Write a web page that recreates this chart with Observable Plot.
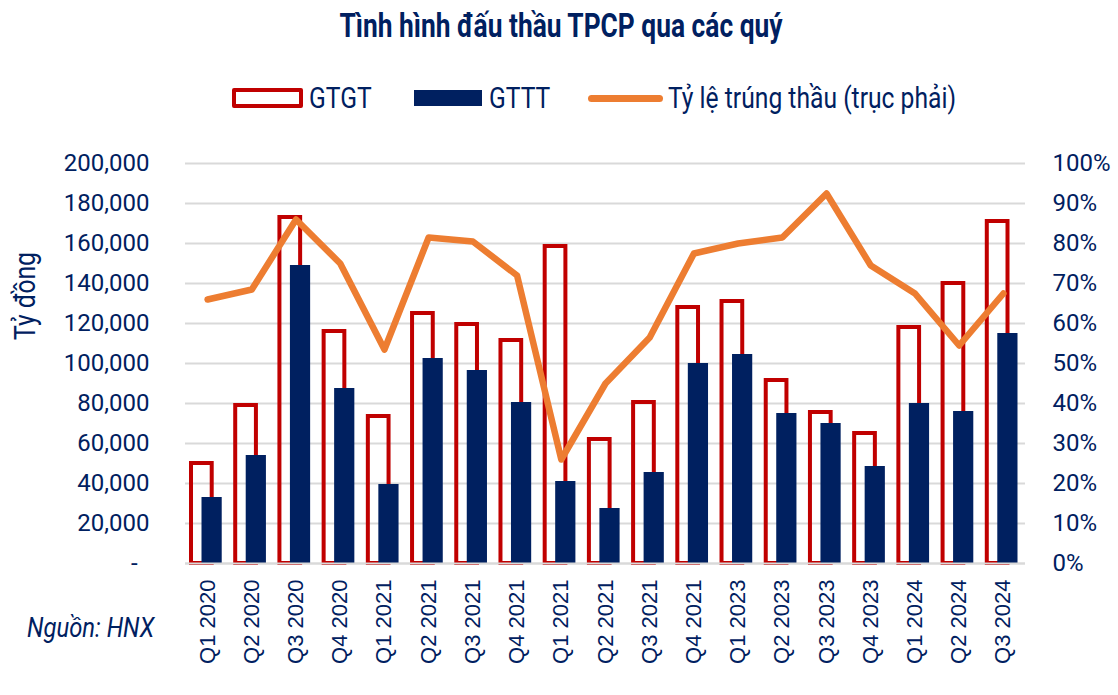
<!DOCTYPE html>
<html>
<head>
<meta charset="utf-8">
<script src="https://cdn.jsdelivr.net/npm/d3@7"></script>
<script src="https://cdn.jsdelivr.net/npm/@observablehq/plot@0.6"></script>
<style>
  html, body { margin: 0; padding: 0; background: #fff; }
  #wrap { position: relative; width: 1118px; height: 695px; overflow: hidden; font-family: Roboto, "Noto Sans", sans-serif; color: #002060; }
  .abs { position: absolute; white-space: nowrap; }
  #title { font-weight: 700; font-size: 34px; line-height: 34px; top: 8px; left: 561px; transform-origin: center; }
  .ltext { font-size: 29px; line-height: 29px; top: 84px; transform-origin: left center; transform: scaleX(0.85); }
  #chart { position: absolute; left: 0; top: 144px; }
  #ylab { font-size: 29px; line-height: 29px; left: 25px; top: 296px; transform: translate(-50%, -50%) rotate(-90deg) scaleX(0.85); }
  #source { font-size: 28px; line-height: 28px; font-style: italic; left: 27px; top: 614px; transform-origin: left center; transform: scaleX(0.85); }
</style>
</head>
<body>
<div id="wrap">
  <div id="title" class="abs">Tình hình đấu thầu TPCP qua các quý</div>
  <div class="abs" style="left:232px;top:88px;width:71px;height:20px;box-sizing:border-box;border:4px solid #C00000;border-radius:2px;"></div>
  <div class="abs ltext" style="left:309px;">GTGT</div>
  <div class="abs" style="left:414px;top:90px;width:68px;height:16px;background:#002060;"></div>
  <div class="abs ltext" style="left:489px;">GTTT</div>
  <div class="abs" style="left:588px;top:94.5px;width:75px;height:7px;border-radius:3.5px;background:#ED7D31;"></div>
  <div class="abs ltext" style="left:668px;">Tỷ lệ trúng thầu (trục phải)</div>
  <div id="ylab" class="abs">Tỷ đồng</div>
  <div id="source" class="abs">Nguồn: HNX</div>
  <div id="chart"></div>
</div>
<script>
const quarters = ["Q1 2020","Q2 2020","Q3 2020","Q4 2020","Q1 2021","Q2 2021","Q3 2021","Q4 2021","Q1 2021","Q2 2021","Q3 2021","Q4 2021","Q1 2023","Q2 2023","Q3 2023","Q4 2023","Q1 2024","Q2 2024","Q3 2024"];
const gtgt = [50000,79000,173000,116000,73500,125000,119500,111500,158500,62000,80500,128000,131000,91500,75500,65000,118000,140000,171000];
const gttt = [33000,54000,149000,87500,39500,102500,96500,80500,41000,27500,45500,100000,104500,75000,70000,48500,80000,76000,115000];
const rate = [66,68.5,86,75,53.5,81.5,80.5,72,26,45,56.5,77.5,80,81.5,92.5,74.5,67.5,54.5,67.5];
const yTicks = [0,20000,40000,60000,80000,100000,120000,140000,160000,180000,200000];
const pctTicks = [0,10,20,30,40,50,60,70,80,90,100];
const RATIO = 2000; // 100% on right axis = 200,000 on left axis

const data = quarters.map((q, i) => ({i, q, gtgt: gtgt[i], gttt: gttt[i], rate: rate[i]}));
const fmt = d3.format(",");

const chart = Plot.plot({
  width: 1118,
  height: 551,
  marginTop: 19,
  marginBottom: 132,
  marginLeft: 185,
  marginRight: 93,
  style: {fontFamily: "Roboto, 'Noto Sans', sans-serif", fontSize: "24px", color: "#002060", background: "transparent"},
  x: {type: "band", domain: data.map(d => d.i), padding: 0, round: false, axis: null},
  y: {domain: [0, 200000], axis: null},
  marks: [
    Plot.ruleY(yTicks, {stroke: "#D9D9D9", strokeWidth: 2}),
    Plot.barY(data, {x: "i", y: "gtgt", fill: "none", stroke: "#C00000", strokeWidth: 4, insetLeft: 6, insetRight: 17.5}),
    Plot.barY(data, {x: "i", y: "gttt", fill: "#002060", insetLeft: 16.5, insetRight: 7.5}),
    Plot.ruleY([0], {stroke: "#D9D9D9", strokeWidth: 2}),
    Plot.line(data, {x: "i", y: d => d.rate * RATIO, stroke: "#ED7D31", strokeWidth: 6.5, strokeLinejoin: "round", strokeLinecap: "round"}),
    Plot.axisY(yTicks, {anchor: "left", tickSize: 0, tickPadding: 36, tickFormat: d => d === 0 ? "-\u00a0\u00a0" : fmt(d), label: null}),
    Plot.axisY(pctTicks.map(p => p * RATIO), {anchor: "right", tickSize: 0, tickPadding: 27, tickFormat: d => (d / RATIO) + "%", label: null}),
    Plot.axisX(data.map(d => d.i), {anchor: "bottom", tickSize: 0, tickPadding: 16, tickRotate: -90, tickFormat: i => quarters[i], fontSize: 22, fontFamily: "'Liberation Sans', Arial, sans-serif", label: null})
  ]
});
document.getElementById("chart").appendChild(chart);

// fit title to its width in the reference
const t = document.getElementById("title");
const w = t.offsetWidth;
t.style.transform = `translateX(-50%) scaleX(${443 / w})`;
</script>
</body>
</html>
